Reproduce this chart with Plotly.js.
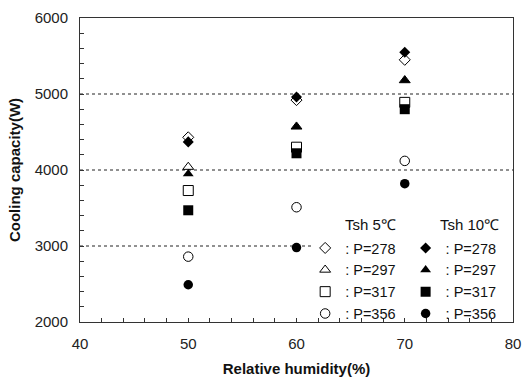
<!DOCTYPE html>
<html>
<head>
<meta charset="utf-8">
<script src="https://cdn.plot.ly/plotly-3.0.1.min.js"></script>
<style>html,body{margin:0;padding:0;background:#fff;}#chart{width:526px;height:377px;}</style>
</head>
<body>
<div id="chart"></div>
<script>
// Relative humidity (%)
const rh = [50, 60, 70];
// Tsh 5 degC (open symbols)
const t5_p278 = [4430, 4920, 5450];
const t5_p297 = [4040, 4570, 5180];
const t5_p317 = [3730, 4300, 4890];
const t5_p356 = [2860, 3510, 4120];
// Tsh 10 degC (filled symbols)
const t10_p278 = [4370, 4960, 5550];
const t10_p297 = [3950, 4570, 5180];
const t10_p317 = [3470, 4220, 4800];
const t10_p356 = [2490, 2980, 3820];

const labels = [': P=278', ': P=297', ': P=317', ': P=356'];
const headers = ['Tsh 5\u2103', 'Tsh 10\u2103'];
// dashed reference lines (y value)
const gridY = [3000, 4000, 5000];

const openSeries = [t5_p278, t5_p297, t5_p317, t5_p356];
const fillSeries = [t10_p278, t10_p297, t10_p317, t10_p356];
const openSym = ['diamond-open', 'triangle-up-open', 'square-open', 'circle-open'];
const fillSym = ['diamond', 'triangle-up', 'square', 'circle'];
const sizes = [8.5, 9.5, 10, 9.5];

const traces = [];
openSeries.forEach((s, i) => traces.push({
  x: rh, y: s, type: 'scatter', mode: 'markers', name: labels[i], legend: 'legend',
  marker: {symbol: openSym[i], size: sizes[i], color: '#000', line: {width: 1, color: '#000'}}
}));
fillSeries.forEach((s, i) => traces.push({
  x: rh, y: s, type: 'scatter', mode: 'markers', name: labels[i], legend: 'legend2',
  marker: {symbol: fillSym[i], size: sizes[i], color: '#000'}
}));

const fam = 'Liberation Sans, Arial, sans-serif';
const font = {family: fam, size: 15, color: '#111'};
const legFont = {family: fam, size: 14.5, color: '#111'};

// the lowest dashed line is hidden behind the legend block on the right
const shapes = gridY.map((v, i) => ({
  type: 'line', xref: 'paper', yref: 'y', x0: 0, x1: i === 0 ? 0.538 : 1, y0: v, y1: v,
  line: {color: '#222', width: 1, dash: '3px,3px'}, layer: 'below'
}));

const layout = {
  width: 526, height: 377,
  margin: {l: 80, r: 13, t: 18, b: 55},
  paper_bgcolor: '#fff', plot_bgcolor: '#fff',
  font: font,
  xaxis: {
    range: [40, 80], dtick: 10, tick0: 40,
    showline: true, linecolor: '#333', linewidth: 1, mirror: true,
    ticks: 'inside', ticklen: 4, tickcolor: '#333',
    minor: {dtick: 2, ticks: 'inside', ticklen: 4, tickcolor: '#333', showgrid: false},
    showgrid: false, zeroline: false,
    ticklabelstandoff: 8,
    tickfont: {family: fam, size: 15, color: '#222'},
    title: {text: '<b>Relative humidity(%)</b>', font: {family: fam, size: 15, color: '#111'}, standoff: 14}
  },
  yaxis: {
    range: [2000, 6000], dtick: 1000, tick0: 2000,
    showline: true, linecolor: '#333', linewidth: 1, mirror: true,
    ticks: 'inside', ticklen: 4, tickcolor: '#333',
    minor: {dtick: 200, ticks: 'inside', ticklen: 4, tickcolor: '#333', showgrid: false},
    showgrid: false, zeroline: false,
    ticklabelstandoff: 8,
    tickfont: {family: fam, size: 15, color: '#222'},
    title: {text: '<b>Cooling capacity(W)</b>', font: {family: fam, size: 15, color: '#111'}, standoff: 10}
  },
  legend: {
    x: 0.52, y: 0.296, xanchor: 'left', yanchor: 'top',
    bgcolor: 'rgba(0,0,0,0)', borderwidth: 0, font: legFont, tracegroupgap: 0,
    itemwidth: 30
  },
  legend2: {
    x: 0.752, y: 0.296, xanchor: 'left', yanchor: 'top',
    bgcolor: 'rgba(0,0,0,0)', borderwidth: 0, font: legFont, tracegroupgap: 0,
    itemwidth: 30
  },
  shapes: shapes,
  annotations: [
    {xref: 'paper', yref: 'paper', x: 0.67, y: 0.32, text: headers[0], showarrow: false, xanchor: 'center', yanchor: 'middle', font: font},
    {xref: 'paper', yref: 'paper', x: 0.90, y: 0.32, text: headers[1], showarrow: false, xanchor: 'center', yanchor: 'middle', font: font}
  ],
  showlegend: true
};

Plotly.newPlot('chart', traces, layout, {displayModeBar: false, staticPlot: true});
</script>
</body>
</html>
